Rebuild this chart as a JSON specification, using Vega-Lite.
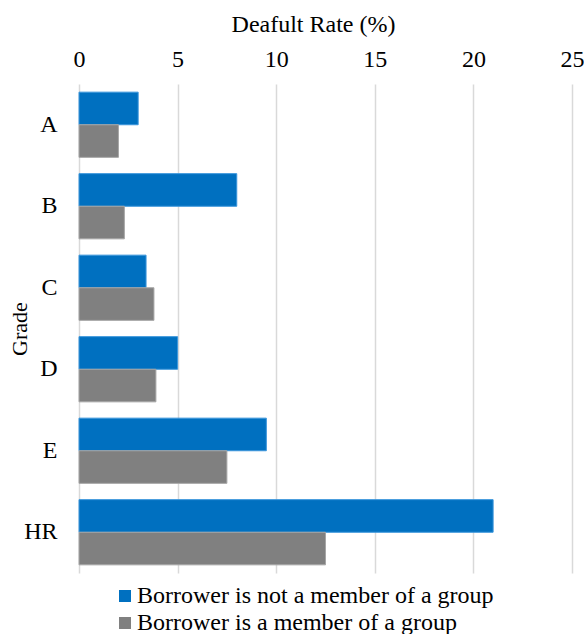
{
  "$schema": "https://vega.github.io/schema/vega-lite/v6.json",
  "width": 493,
  "height": 489,
  "autosize": {"type": "none"},
  "padding": {"left": 79, "top": 84, "right": 12, "bottom": 61},
  "background": "white",
  "config": {
    "font": "Times New Roman, Liberation Serif, serif",
    "view": {"stroke": null}
  },
  "data": {
    "values": [
      {"grade": "A", "group": "Borrower is not a member of a group", "rate": 3.0},
      {"grade": "A", "group": "Borrower is a member of a group", "rate": 2.0},
      {"grade": "B", "group": "Borrower is not a member of a group", "rate": 8.0},
      {"grade": "B", "group": "Borrower is a member of a group", "rate": 2.3},
      {"grade": "C", "group": "Borrower is not a member of a group", "rate": 3.4},
      {"grade": "C", "group": "Borrower is a member of a group", "rate": 3.8},
      {"grade": "D", "group": "Borrower is not a member of a group", "rate": 5.0},
      {"grade": "D", "group": "Borrower is a member of a group", "rate": 3.9},
      {"grade": "E", "group": "Borrower is not a member of a group", "rate": 9.5},
      {"grade": "E", "group": "Borrower is a member of a group", "rate": 7.5},
      {"grade": "HR", "group": "Borrower is not a member of a group", "rate": 21.0},
      {"grade": "HR", "group": "Borrower is a member of a group", "rate": 12.5}
    ]
  },
  "mark": {"type": "bar", "strokeWidth": 1},
  "encoding": {
    "y": {
      "field": "grade",
      "type": "nominal",
      "sort": ["A", "B", "C", "D", "E", "HR"],
      "scale": {"paddingInner": 0.2, "paddingOuter": 0.1},
      "axis": {
        "title": "Grade",
        "titleFont": "Times New Roman, Liberation Serif, serif",
        "titleFontSize": 22,
        "titleFontWeight": "normal",
        "titleColor": "#000000",
        "titleX": -48,
        "labelFont": "Times New Roman, Liberation Serif, serif",
        "labelFontSize": 24,
        "labelColor": "#000000",
        "labelPadding": 22,
        "ticks": false,
        "domain": false
      }
    },
    "yOffset": {
      "field": "group",
      "type": "nominal",
      "sort": ["Borrower is not a member of a group", "Borrower is a member of a group"],
      "scale": {"paddingInner": 0, "paddingOuter": 0}
    },
    "x": {
      "field": "rate",
      "type": "quantitative",
      "scale": {"domain": [0, 25], "nice": false},
      "axis": {
        "orient": "top",
        "title": "Deafult Rate (%)",
        "titleFont": "Times New Roman, Liberation Serif, serif",
        "titleFontSize": 24,
        "titleFontWeight": "normal",
        "titleColor": "#000000",
        "titlePadding": 11,
        "titleX": 234,
        "titleAnchor": "middle",
        "labelFont": "Times New Roman, Liberation Serif, serif",
        "labelFontSize": 24,
        "labelColor": "#000000",
        "labelPadding": 13,
        "labelFlush": false,
        "values": [0, 5, 10, 15, 20, 25],
        "ticks": false,
        "domain": false,
        "grid": true,
        "gridColor": "#D9D9D9",
        "gridWidth": 1.5
      }
    },
    "color": {
      "field": "group",
      "type": "nominal",
      "sort": ["Borrower is not a member of a group", "Borrower is a member of a group"],
      "scale": {
        "domain": ["Borrower is not a member of a group", "Borrower is a member of a group"],
        "range": ["#0070C0", "#808080"]
      },
      "legend": {
        "title": null,
        "orient": "none",
        "legendX": 34,
        "legendY": 500,
        "direction": "vertical",
        "symbolType": "square",
        "symbolSize": 144,
        "symbolStrokeWidth": 0,
        "symbolOpacity": 1,
        "labelFont": "Times New Roman, Liberation Serif, serif",
        "labelFontSize": 24,
        "labelColor": "#000000",
        "labelLimit": 600,
        "labelOffset": 0,
        "rowPadding": 3
      }
    },
    "stroke": {
      "field": "group",
      "type": "nominal",
      "scale": {
        "domain": ["Borrower is not a member of a group", "Borrower is a member of a group"],
        "range": ["#3A95DB", "#A6A6A6"]
      },
      "legend": null
    }
  }
}
